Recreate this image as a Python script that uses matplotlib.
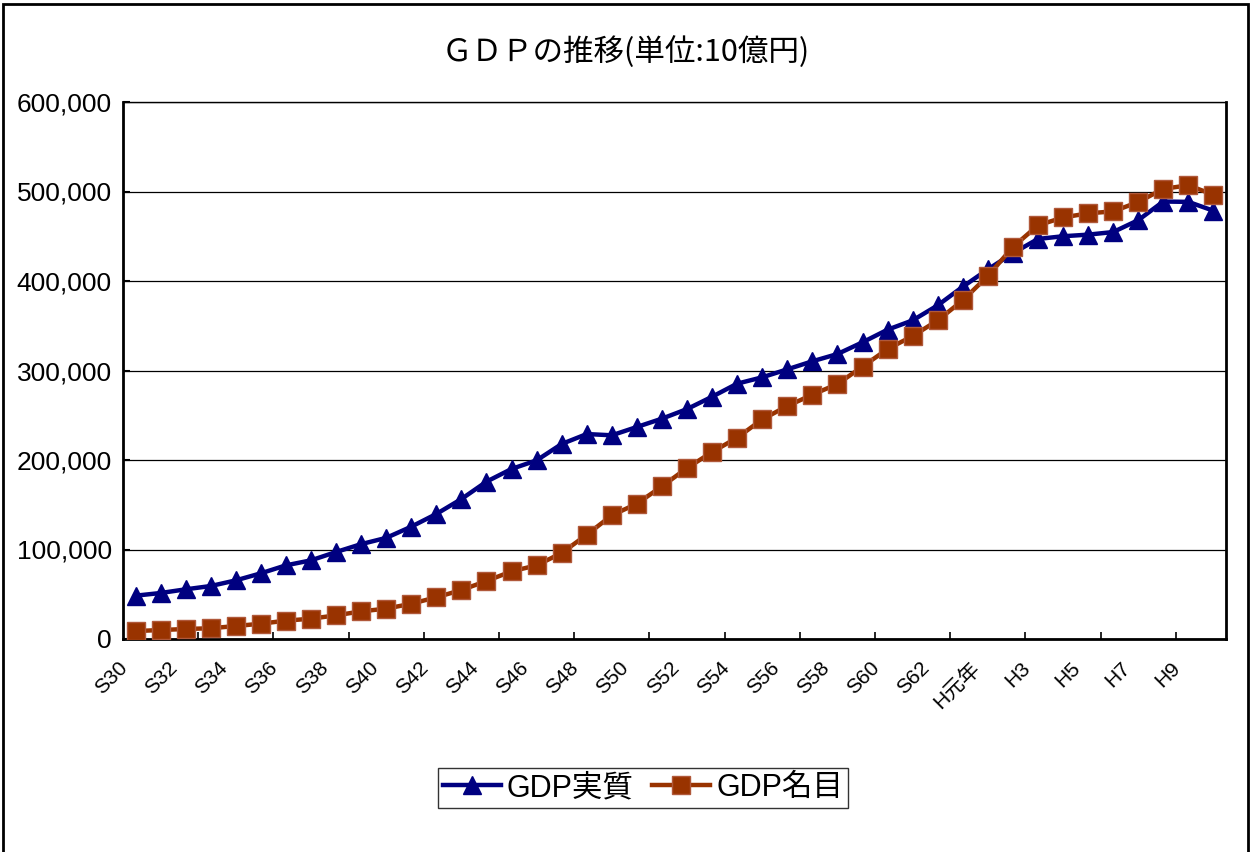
import matplotlib.pyplot as plt
from matplotlib.patches import Rectangle
from matplotlib.transforms import ScaledTranslation

years = ["S%d" % y for y in range(30, 64)] + ["H元年"] + ["H%d" % y for y in range(2, 11)]

# GDP実質 (10億円)
gdp_real = [48400, 51400, 55500, 59200, 65500, 73400, 82300, 87900, 97200, 106000,
            113000, 125500, 139700, 156400, 175800, 190000, 199600, 217900, 229000, 227600,
            236900, 246200, 256900, 270700, 285300, 292400, 301300, 310300, 318400, 331500,
            345600, 356000, 372800, 393600, 413000, 431000, 447000, 450000, 451800, 454700,
            468000, 488800, 488400, 478500]

# GDP名目 (10億円)
gdp_nominal = [8900, 10000, 11200, 12000, 14500, 17100, 20500, 22700, 26400, 30900,
               33900, 39400, 46600, 54700, 64800, 75600, 82300, 96100, 116500, 138200,
               151200, 170600, 191000, 208900, 224900, 245400, 260300, 273000, 284900, 304300,
               324000, 338500, 356000, 378400, 405600, 438000, 462200, 471000, 475600, 477800,
               488200, 503000, 506900, 496400]

y_ticks = [0, 100000, 200000, 300000, 400000, 500000, 600000]

latin = ["Liberation Sans", "Noto Sans CJK JP"]
cjk = ["Noto Sans CJK JP", "DejaVu Sans"]

fig = plt.figure(figsize=(12.51, 8.52), dpi=100)
ax = fig.add_axes([123 / 1251, 1 - 639 / 852, 1103 / 1251, 537 / 852])

x = list(range(len(years)))
ax.plot(x, gdp_real, color="#000080", lw=3.2, marker="^", ms=13.5,
        mec="#000080", label="GDP実質", zorder=3)
ax.plot(x, gdp_nominal, color="#993300", lw=3.2, marker="s", ms=12.5,
        mec="#b0583a", mew=1, label="GDP名目", zorder=4)

ax.set_xlim(-0.5, len(years) - 0.5)
ax.set_ylim(0, 600000)

ax.set_yticks(y_ticks)
ax.set_yticklabels([f"{v:,}" for v in y_ticks], family=latin, fontsize=19)
ax.tick_params(axis="y", direction="in", length=5, width=1.5, pad=8)
ax.grid(axis="y", color="black", lw=0.9)
ax.set_axisbelow(True)

ax.set_xticks([k - 0.5 for k in range(3, len(years), 3)])
ax.set_xticklabels([])
ax.tick_params(axis="x", direction="in", length=5, width=1.2)

off = ScaledTranslation(-11 / 100, -26 / 100, fig.dpi_scale_trans)
for i in range(0, len(years), 2):
    ax.text(i, 0, years[i], transform=ax.get_xaxis_transform() + off,
            rotation=45, rotation_mode="anchor", ha="right", va="center",
            fontsize=15, family=latin)

for side, lw in [("left", 2), ("bottom", 2), ("right", 2), ("top", 1)]:
    ax.spines[side].set_linewidth(lw)
    ax.spines[side].set_color("black")

fig.text(0.5, 1 - 52 / 852, "ＧＤＰの推移(単位:10億円)", ha="center", va="center",
         fontsize=22, family=cjk)

leg = fig.legend(loc="center", bbox_to_anchor=(643 / 1251, 1 - 788 / 852), ncol=2,
                 prop={"family": latin, "size": 22}, frameon=True, fancybox=False,
                 edgecolor="black", handlelength=1.9, handletextpad=0.2,
                 columnspacing=0.6, borderpad=0.15, borderaxespad=0)
leg.get_frame().set_linewidth(1)

fig.patches.append(Rectangle((3 / 1251, -0.02), 1245 / 1251, 1.02 - 4 / 852,
                             transform=fig.transFigure, fill=False,
                             edgecolor="black", lw=2))

fig.savefig("out.png", dpi=100, facecolor="white")
